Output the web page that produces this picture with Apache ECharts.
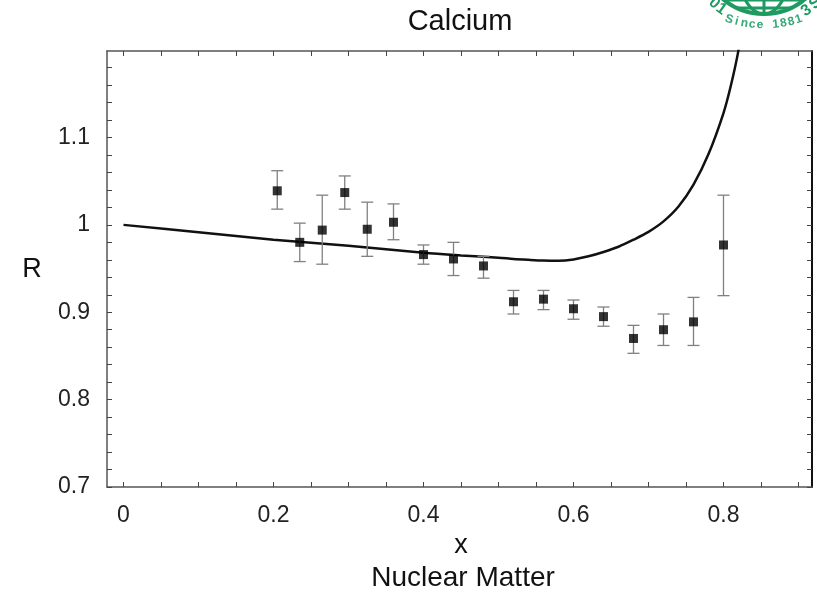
<!DOCTYPE html>
<html><head><meta charset="utf-8">
<script src="https://cdn.jsdelivr.net/npm/echarts@6/dist/echarts.min.js"></script>
<style>html,body{margin:0;padding:0;background:#fff}#c{width:817px;height:592px}</style>
</head><body><div id="c"></div>
<script>
const xData   = [0.205,0.235,0.265,0.295,0.325,0.36,0.40,0.44,0.48,0.52,0.56,0.60,0.64,0.68,0.72,0.76,0.80];
const rData   = [1.039,0.980,0.994,1.037,0.995,1.003,0.966,0.961,0.953,0.912,0.915,0.904,0.895,0.870,0.880,0.889,0.977];
const errHigh = [1.062,1.002,1.034,1.056,1.026,1.024,0.977,0.980,0.964,0.925,0.925,0.914,0.906,0.885,0.898,0.917,1.034];
const errLow  = [1.018,0.958,0.955,1.018,0.964,0.983,0.955,0.942,0.939,0.898,0.903,0.892,0.884,0.853,0.862,0.862,0.919];
const curveX = [0,0.1,0.2,0.3,0.4,0.45,0.5,0.52,0.54,0.56,0.58,0.60,0.62,0.64,0.66,0.68,0.70,0.72,0.74,0.76,0.78,0.80,0.81,0.82,0.825];
const curveR = [1.0,0.9915,0.983,0.976,0.968,0.965,0.9625,0.961,0.960,0.9592,0.959,0.9605,0.964,0.969,0.975,0.983,0.992,1.004,1.021,1.046,1.081,1.128,1.160,1.200,1.23];
const xLabels = [0,0.2,0.4,0.6,0.8];
const yLabels = [0.7,0.8,0.9,1,1.1];
const xTicks = []; for (let i = 0; i <= 18; i++) xTicks.push(+(i*0.05).toFixed(2));
const yTicks = []; for (let i = 0; i <= 24; i++) yTicks.push(+(0.7 + i*0.02).toFixed(2));

const FONT = '"Liberation Sans", Arial, sans-serif';
const GREEN = '#1f9a62';
const chart = echarts.init(document.getElementById('c'), null, {renderer:'canvas'});
const axisLine = {show:true, onZero:false, lineStyle:{color:'#555', width:1.5}};
const tick = (vals) => ({show:true, inside:true, length:5, customValues: vals, lineStyle:{color:'#444', width:1}});

// decorative logo (partly cut off at the top edge)
const logoCx = 764, logoCy = -50;
function arcText(str, cx, cy, radius, startDeg, stepDeg, size, color) {
  const els = [];
  for (let i = 0; i < str.length; i++) {
    const a = (startDeg + i*stepDeg) * Math.PI/180;
    els.push({type:'text', x: cx + radius*Math.cos(a), y: cy + radius*Math.sin(a),
      rotation: -(a - Math.PI/2),
      style:{text:str[i], x:0, y:0, align:'center', verticalAlign:'middle', font:'bold '+size+'px '+FONT, fill:color}});
  }
  return els;
}

chart.setOption({
  animation:false,
  backgroundColor:'#fff',
  grid:{left:107, right:5, top:51, bottom:105},
  xAxis:[
    {type:'value', min:-0.022, max:0.918, axisLine, axisTick:tick(xTicks), splitLine:{show:false},
     axisLabel:{customValues:xLabels, margin:17, fontSize:23, fontFamily:FONT, color:'#222'}},
    {type:'value', position:'top', min:-0.022, max:0.918, axisLine, axisTick:tick(xTicks), splitLine:{show:false},
     axisLabel:{show:false}}
  ],
  yAxis:[
    {type:'value', min:0.7, max:1.199, axisLine, axisTick:tick(yTicks), splitLine:{show:false},
     axisLabel:{customValues:yLabels, margin:17, fontSize:23, fontFamily:FONT, color:'#222'}},
    {type:'value', position:'right', min:0.7, max:1.199, axisLine:{show:true, onZero:false, lineStyle:{color:'#111', width:2}}, axisTick:tick(yTicks), splitLine:{show:false},
     axisLabel:{show:false}}
  ],
  series:[
    {type:'line', data:curveX.map((x,i)=>[x,curveR[i]]), smooth:0.3, showSymbol:false, symbol:'none',
     lineStyle:{color:'#111', width:2.5}, clip:true, z:3},
    {type:'custom', data:xData.map((x,i)=>[x,errLow[i],errHigh[i]]), clip:true, z:4,
     renderItem:(params, api)=>{
       const lo = api.coord([api.value(0), api.value(1)]);
       const hi = api.coord([api.value(0), api.value(2)]);
       const w = 6;
       const st = {stroke:'#808080', lineWidth:1.3};
       return {type:'group', children:[
         {type:'line', shape:{x1:lo[0], y1:lo[1], x2:hi[0], y2:hi[1]}, style:st},
         {type:'line', shape:{x1:lo[0]-w, y1:lo[1], x2:lo[0]+w, y2:lo[1]}, style:st},
         {type:'line', shape:{x1:hi[0]-w, y1:hi[1], x2:hi[0]+w, y2:hi[1]}, style:st}
       ]};
     }},
    {type:'scatter', data:xData.map((x,i)=>[x,rData[i]]), symbol:'rect', symbolSize:9,
     itemStyle:{color:'#000'}, z:5}
  ],
  graphic:[
    {type:'text', style:{text:'Calcium', x:460, y:22, align:'center', verticalAlign:'middle', font:'29px '+FONT, fill:'#111'}},
    {type:'text', style:{text:'R', x:32, y:270, align:'center', verticalAlign:'middle', font:'27px '+FONT, fill:'#111'}},
    {type:'text', style:{text:'x', x:461, y:546, align:'center', verticalAlign:'middle', font:'27px '+FONT, fill:'#111'}},
    {type:'text', style:{text:'Nuclear Matter', x:463, y:578, align:'center', verticalAlign:'middle', font:'28px '+FONT, fill:'#111'}},
    {type:'group', children:[
      {type:'circle', shape:{cx:logoCx, cy:logoCy, r:64}, style:{fill:'none', stroke:GREEN, lineWidth:4}},
      {type:'ellipse', shape:{cx:logoCx, cy:logoCy, rx:30, ry:64}, style:{fill:'none', stroke:GREEN, lineWidth:3}},
      {type:'line', shape:{x1:724, y1:0, x2:804, y2:0}, style:{stroke:GREEN, lineWidth:3}},
      {type:'line', shape:{x1:736, y1:8, x2:792, y2:8}, style:{stroke:GREEN, lineWidth:3}},
      {type:'line', shape:{x1:logoCx, y1:-10, x2:logoCx, y2:14}, style:{stroke:GREEN, lineWidth:3}}
    ].concat(
      arcText('Since 1881', logoCx, -85, 110, 108.5, -4.1, 12, '#35a874'),
      arcText('01', logoCx, logoCy, 73, 133, -7, 16, GREEN),
      arcText('3S', logoCx, logoCy, 74, 55, -9, 16, GREEN)
    )}
  ]
});
</script></body></html>
